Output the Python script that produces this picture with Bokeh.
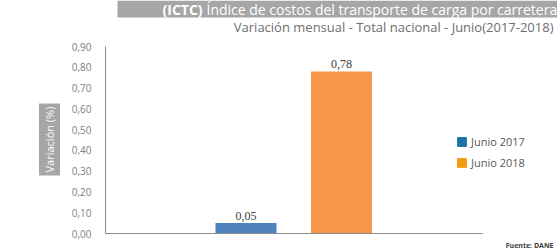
from bokeh.plotting import figure
from bokeh.models import (ColumnDataSource, Range1d, Label, Legend, LegendItem,
                          BoxAnnotation, FixedTicker, LabelSet, LinearAxis)
from bokeh.embed import file_html
from bokeh.resources import INLINE

# ---- data ----
categories = ["Junio 2017", "Junio 2018"]
values = [0.05, 0.78]
value_labels = ["0,05", "0,78"]
bar_colors = ["#4f81bd", "#f79646"]
legend_colors = ["#1a74a6", "#f39c12"]
y_ticks = [0.0, 0.1, 0.2, 0.3, 0.4, 0.5, 0.6, 0.7, 0.8, 0.9]
y_tick_labels = ["0,00", "0,10", "0,20", "0,30", "0,40", "0,50", "0,60", "0,70", "0,80", "0,90"]
title_bold = "(ICTC)"
title_rest = "Índice de costos del transporte de carga por carretera"
subtitle = "Variación mensual - Total nacional - Junio(2017-2018)"
y_label = "Variación (%)"
source_note = "Fuente: DANE"

FONT = "Open Sans"
W, H = 557, 250

# ---- layout (pixels) ----
AX_LEFT, AX_RIGHT = 105, 482      # x-axis line extent
Y0_PX, YTOP_PX = 233, 46          # pixel rows of y=0 and y=0.9
Y_MAX = 0.9
FIRST_BAR_PX = 245.5              # centre of first bar
BAR_STEP_PX = 95.5                # distance between bar centres
BAR_W_PX = 61

py = (Y0_PX - YTOP_PX) / Y_MAX
y_start = -(H - Y0_PX) / py
y_end = Y0_PX / py
x_start = -FIRST_BAR_PX / BAR_STEP_PX
x_end = (W - FIRST_BAR_PX) / BAR_STEP_PX

def xd(px):
    return (px - FIRST_BAR_PX) / BAR_STEP_PX

p = figure(width=W, height=H, output_backend="svg", toolbar_location=None,
           x_range=Range1d(x_start, x_end), y_range=Range1d(y_start, y_end),
           x_axis_type=None, y_axis_type=None,
           min_border=0, min_border_left=0, min_border_right=0,
           min_border_top=0, min_border_bottom=0)
p.title.visible = False
p.outline_line_color = None
p.grid.visible = False
p.background_fill_color = "white"
p.border_fill_color = "white"

xs = list(range(len(categories)))
src = ColumnDataSource(dict(x=xs, val=values, lab=value_labels, color=bar_colors))
p.vbar(x="x", top="val", width=BAR_W_PX / BAR_STEP_PX, color="color", source=src,
       line_color=None)

labels = LabelSet(x="x", y="val", text="lab", source=src, text_align="center",
                  text_baseline="bottom", y_offset=3, text_font=FONT,
                  text_font_size="12px", text_color="#404040")
p.add_layout(labels)

# axes placed inside the frame
ya = LinearAxis(fixed_location=xd(AX_LEFT), bounds=(0, Y_MAX))
ya.ticker = FixedTicker(ticks=y_ticks)
ya.major_label_overrides = {t: l for t, l in zip(y_ticks, y_tick_labels)}
ya.major_tick_line_color = None
ya.minor_tick_line_color = None
ya.axis_line_color = "#8c8c8c"
ya.major_label_text_font = FONT
ya.major_label_text_font_size = "10px"
ya.major_label_text_color = "#808080"
ya.major_label_standoff = 8
p.add_layout(ya, "left")

xa = LinearAxis(fixed_location=0, bounds=(xd(AX_LEFT), xd(AX_RIGHT)))
xa.ticker = FixedTicker(ticks=[])
xa.major_tick_line_color = None
xa.minor_tick_line_color = None
xa.major_label_text_font_size = "0px"
xa.axis_line_color = "#8c8c8c"
p.add_layout(xa, "below")

# legend with its own swatch colours (swatch-only renderers hold no visible bar)
leg_src = ColumnDataSource(dict(x=[0], top=[float("nan")]))
r1 = p.vbar(x="x", top="top", width=0.5, source=leg_src, color=legend_colors[0])
r2 = p.vbar(x="x", top="top", width=0.5, source=leg_src, color=legend_colors[1])
legend = Legend(items=[LegendItem(label=categories[0], renderers=[r1]),
                       LegendItem(label=categories[1], renderers=[r2])],
                location=(456, H - 169.5), orientation="vertical",
                glyph_width=11, glyph_height=11, label_standoff=4, spacing=6,
                padding=0, margin=0, border_line_color=None,
                background_fill_alpha=0, label_text_font=FONT,
                label_text_font_size="11px", label_text_color="#595959",
                label_height=14)
p.add_layout(legend, "center")

def sy(y):
    return H - y

# banner
banner = BoxAnnotation(left=117, right=W, top=sy(0), bottom=sy(17),
                       left_units="screen", right_units="screen",
                       top_units="screen", bottom_units="screen",
                       fill_color="#a6a6a6", fill_alpha=1, line_color=None,
                       level="underlay")
p.add_layout(banner)

p.add_layout(Label(x=162, y=sy(9), x_units="screen", y_units="screen",
                   text=title_bold, text_font=FONT, text_font_style="bold",
                   text_font_size="14px", text_color="white",
                   text_baseline="middle", text_align="left"))
p.add_layout(Label(x=206, y=sy(9), x_units="screen", y_units="screen",
                   text=title_rest, text_font=FONT,
                   text_font_size="14px", text_color="white",
                   text_baseline="middle", text_align="left"))
p.add_layout(Label(x=553, y=sy(26), x_units="screen", y_units="screen",
                   text=subtitle, text_font=FONT,
                   text_font_size="13px", text_color="#6e6e6e",
                   text_baseline="middle", text_align="right"))

# y label box
p.add_layout(Label(x=49, y=sy(139), x_units="screen", y_units="screen",
                   text=y_label, text_font=FONT, angle=1.5708,
                   text_font_size="11px", text_color="white",
                   text_baseline="middle", text_align="center",
                   background_fill_color="#a6a6a6", padding=3))

p.add_layout(Label(x=553, y=sy(245), x_units="screen", y_units="screen",
                   text=source_note, text_font=FONT, text_font_style="bold",
                   text_font_size="7px", text_color="#404040",
                   text_baseline="middle", text_align="right"))

open("out.html", "w").write(file_html(p, INLINE))
